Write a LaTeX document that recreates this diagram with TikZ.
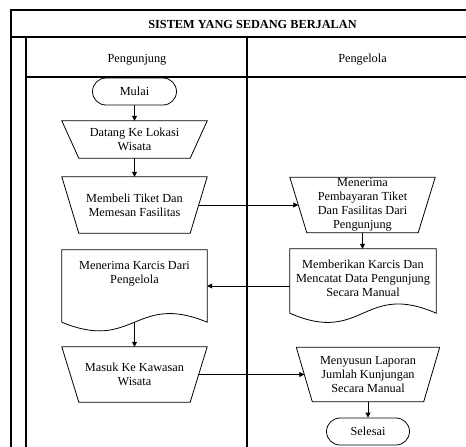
\documentclass[tikz,border=0pt]{standalone}
\usepackage{fontspec}
\setmainfont{Liberation Serif}
\usetikzlibrary{shapes.misc,arrows.meta}
\newcommand\drawtrapbox[2]{\draw[box] (#1.north west) -- (#1.north east) -- ([xshift=-#2]#1.south east) -- ([xshift=#2]#1.south west) -- cycle;}
\begin{document}
\begin{tikzpicture}[x=1pt,y=-1pt,
  frame/.style={line width=1.1pt},
  box/.style={draw, line width=0.8pt},
  txt/.style={font=\fontsize{12.3}{14}\selectfont, align=center, inner sep=0pt},
  inp/.style={txt, rectangle},
  term/.style={box, rounded rectangle, inner sep=0pt, font=\fontsize{12.3}{14}\selectfont},
  doc/.style={inner sep=0pt, draw=none},
  arr/.style={-{Triangle[length=5pt,width=5pt]}, line width=0.8pt}]
\useasboundingbox (0,0) rectangle (466,447);
% frame
\draw[frame] (466,10) -- (11,10) -- (11,447);
\draw[frame] (11,37) -- (466,37);
\draw[frame] (26,37) -- (26,447);
\draw[frame] (26,77) -- (466,77);
\draw[frame] (247,37) -- (247,447);
\node[txt, font=\fontsize{12.3}{14}\selectfont\bfseries] (title) at (252.5,24) {SISTEM YANG SEDANG BERJALAN};
\node[txt] (lane1) at (137,60) {Pengunjung};
\node[txt] (lane2) at (362.5,60) {Pengelola};
% left lane
\node[term, minimum width=84pt, minimum height=27pt] (mulai) at (134.5,91.5) {Mulai};
\node[inp, minimum width=145pt, minimum height=37pt] (datang) at (134.5,139.5) {Datang Ke Lokasi\\Wisata};
\drawtrapbox{datang}{17pt}
\node[inp, minimum width=145pt, minimum height=56pt] (membeli) at (134.5,205) {Membeli Tiket Dan\\Memesan Fasilitas};
\drawtrapbox{membeli}{17pt}
\node[doc, minimum width=145pt, minimum height=72pt] (karcis) at (134.5,286) {};
\draw[box] (karcis.south west) -- (karcis.north west) -- (karcis.north east) -- (karcis.south east)
  .. controls +(-72,-30) and +(72,30) .. (karcis.south west);
\node[txt] (karcisT) at (134.5,274) {Menerima Karcis Dari\\Pengelola};
\node[inp, minimum width=145pt, minimum height=55pt] (masuk) at (134.5,374.5) {Masuk Ke Kawasan\\Wisata};
\drawtrapbox{masuk}{17pt}
% right lane
\node[inp, minimum width=145pt, minimum height=55pt] (bayar) at (362.5,205) {Menerima\\Pembayaran Tiket\\Dan Fasilitas Dari\\Pengunjung};
\drawtrapbox{bayar}{17pt}
\node[doc, minimum width=146pt, minimum height=64pt] (beri) at (363,281) {};
\draw[box] (beri.south west) -- (beri.north west) -- (beri.north east) -- (beri.south east)
  .. controls +(-73,-32) and +(73,32) .. (beri.south west);
\node[txt] (beriT) at (363,278) {Memberikan Karcis Dan\\Mencatat Data Pengunjung\\Secara Manual};
\node[inp, minimum width=143pt, minimum height=54pt] (susun) at (368,374.5) {Menyusun Laporan\\Jumlah Kunjungan\\Secara Manual};
\drawtrapbox{susun}{16pt}
\node[term, minimum width=83pt, minimum height=27pt] (selesai) at (368,431.5) {Selesai};
% connectors
\draw[arr] (mulai) -- (datang);
\draw[arr] (datang) -- (membeli);
\draw[arr] ([xshift=-8.5pt]membeli.east) -- ([xshift=8.5pt]bayar.west);
\draw[arr] (bayar) -- (bayar |- beri.north);
\draw[arr] (beri.west |- karcis.east) -- (karcis.east);
\draw[arr] (karcis.south) -- (masuk);
\draw[arr] ([xshift=-8.5pt]masuk.east) -- ([xshift=8pt]susun.west);
\draw[arr] (susun) -- (selesai);
\end{tikzpicture}
\end{document}
